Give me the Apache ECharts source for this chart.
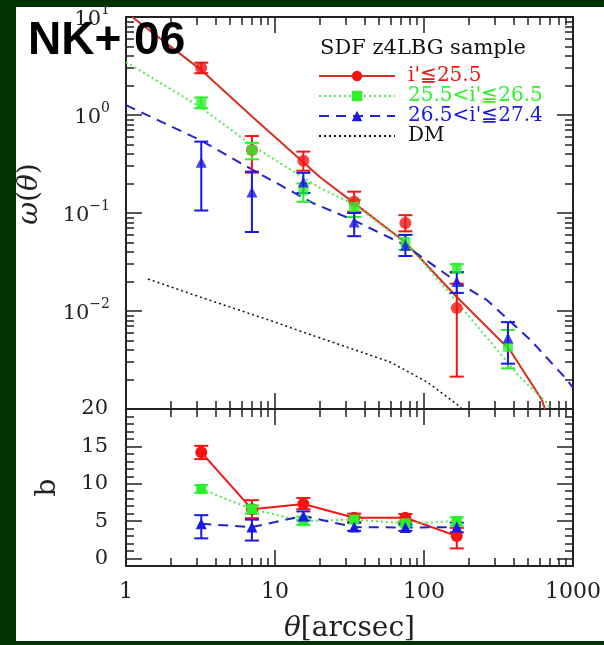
<!DOCTYPE html>
<html>
<head>
<meta charset="utf-8">
<script src="https://cdn.jsdelivr.net/npm/echarts@6/dist/echarts.min.js"></script>
<style>
  body { margin: 0; background: #013201; }
  #panel { position: absolute; left: 16px; top: 7px; width: 588px; height: 634px; background: #fff; }
  #chart { position: absolute; left: 0; top: 0; width: 604px; height: 645px; }
</style>
</head>
<body>
<div id="panel"></div>
<div id="chart"></div>
<script>
// angular separations (arcsec)
const theta = [3.2, 7.0, 15.5, 34, 75, 166, 366];

// omega(theta), upper panel
const wRed = [3.02, 0.44, 0.342, 0.13, 0.079, 0.0107];
const wRedLo = [2.67, 0.258, 0.27, 0.103, 0.065, 0.00214];
const wRedHi = [3.42, 0.61, 0.423, 0.165, 0.095, 0.019];

const wGreen = [1.32, 0.44, 0.17, 0.115, 0.0506, 0.0275, 0.0043];
const wGreenLo = [1.17, 0.353, 0.13, 0.091, 0.042, 0.0245, 0.0026];
const wGreenHi = [1.51, 0.52, 0.2, 0.136, 0.06, 0.03, 0.0064];

const wBlue = [0.33, 0.164, 0.207, 0.081, 0.047, 0.02, 0.0053];
const wBlueLo = [0.106, 0.064, 0.16, 0.058, 0.0364, 0.0153, 0.0029];
const wBlueHi = [0.535, 0.264, 0.257, 0.1, 0.0597, 0.025, 0.0077];

// fitted curves
const fitRedX = [1.1, 3.14, 7.1, 20, 33.3, 74.6, 166, 377, 619, 648];
const fitRedY = [10, 2.94, 0.95, 0.233, 0.129, 0.0506, 0.0139, 0.004, 0.00124, 0.001];
const fitGreenX = [1, 3.14, 7.1, 20, 34.4, 80.5, 166, 440, 670, 700];
const fitGreenY = [3.47, 1.21, 0.483, 0.18, 0.121, 0.045, 0.0124, 0.00212, 0.00115, 0.001];
const fitBlueX = [1, 3.14, 7.1, 18, 33.4, 74.6, 166, 265, 516, 913, 1000];
const fitBlueY = [1.26, 0.556, 0.275, 0.126, 0.085, 0.047, 0.0198, 0.0129, 0.0051, 0.00198, 0.00164];
const dmX = [1.405, 3.14, 10, 14.7, 59.2, 104.5, 166, 180];
const dmY = [0.0212, 0.0139, 0.0077, 0.00625, 0.00302, 0.00189, 0.00112, 0.001];

// bias b, lower panel
const bRed = [14.2, 6.6, 7.3, 5.45, 5.45, 3.0];
const bRedLo = [13.3, 5.4, 6.6, 4.9, 4.9, 1.35];
const bRedHi = [15.07, 7.8, 8.1, 6.0, 5.95, 4.1];
const bGreen = [9.3, 6.6, 5.0, 5.2, 4.7, 5.0];
const bGreenLo = [8.8, 6.0, 4.5, 4.8, 4.4, 4.4];
const bGreenHi = [9.8, 7.1, 5.6, 5.6, 5.0, 5.5];
const bBlue = [4.65, 4.2, 5.7, 4.2, 4.15, 4.2];
const bBlueLo = [2.7, 2.4, 5.1, 3.7, 3.7, 3.5];
const bBlueHi = [5.8, 5.2, 6.3, 4.8, 4.6, 4.8];

const names = ["i'\u226625.5", "25.5<i'\u226626.5", "26.5<i'\u226627.4", "DM"];
const RED = "#f41414", GREEN = "#2cf02c", BLUE = "#1818e8";
const SERIF = "'DejaVu Serif', 'Liberation Serif', serif";
const INK = "#222";

const pairs = (xs, ys) => ys.map((y, i) => [xs[i], y]);
const bars = (ys, lo, hi) => ys.map((y, i) => [theta[i], y, lo[i], hi[i]]);

// minor tick positions, in log10 units
const minorLog = (d0, d1) => {
  const out = [];
  for (let d = d0; d < d1; d++) {
    for (let k = 2; k <= 9; k++) out.push(d + Math.log10(k));
  }
  return out;
};
const minorB = [];
for (let v = 1; v < 20; v++) if (v % 5 !== 0) minorB.push(v);

const tickAxis = (grid, pos, min, max, values, len, line) => ({
  type: "value",
  gridIndex: grid,
  position: pos,
  min: min,
  max: max,
  axisLine: { show: !!line, onZero: false, lineStyle: { color: INK, width: 2 } },
  axisLabel: { show: false },
  splitLine: { show: false },
  axisTick: {
    show: true,
    inside: true,
    length: len,
    customValues: values,
    lineStyle: { color: INK, width: 1.5 },
  },
});

const errorBar = (color, xi, yi) => ({
  type: "custom",
  xAxisIndex: xi,
  yAxisIndex: yi,
  z: 3,
  clip: false,
  encode: { x: 0, y: 1 },
  renderItem: (params, api) => {
    const x = api.value(0);
    const top = api.coord([x, api.value(3)]);
    const bot = api.coord([x, api.value(2)]);
    const w = 7;
    const st = { stroke: color, lineWidth: 2 };
    return {
      type: "group",
      children: [
        { type: "line", shape: { x1: top[0], y1: top[1], x2: bot[0], y2: bot[1] }, style: st },
        { type: "line", shape: { x1: top[0] - w, y1: top[1], x2: top[0] + w, y2: top[1] }, style: st },
        { type: "line", shape: { x1: bot[0] - w, y1: bot[1], x2: bot[0] + w, y2: bot[1] }, style: st },
      ],
    };
  },
});

const legendText = (color) => ({ color: color, fontFamily: SERIF, fontSize: 20 });

const chart = echarts.init(document.getElementById("chart"));

const option = {
  backgroundColor: "transparent",
  animation: false,
  textStyle: { fontFamily: SERIF },
  grid: [
    { left: 126, top: 17, width: 447, height: 392 },
    { left: 126, top: 409, width: 447, height: 157 },
  ],
  xAxis: [
    {
      type: "log", logBase: 10, gridIndex: 0, position: "bottom", min: 1, max: 1000,
      axisLine: { onZero: false, lineStyle: { color: INK, width: 2 } },
      axisTick: { inside: true, length: 16, lineStyle: { color: INK, width: 1.5 } },
      axisLabel: { show: false },
      splitLine: { show: false },
    },
    tickAxis(0, "top", 0, 3, [0, 1, 2, 3], 16, true),
    tickAxis(0, "bottom", 0, 3, minorLog(0, 3), 8),
    tickAxis(0, "top", 0, 3, minorLog(0, 3), 8),
    {
      type: "log", logBase: 10, gridIndex: 1, position: "bottom", min: 1, max: 1000,
      axisLine: { onZero: false, lineStyle: { color: INK, width: 2 } },
      axisTick: { inside: true, length: 16, lineStyle: { color: INK, width: 1.5 } },
      axisLabel: {
        margin: 15, fontSize: 22, color: INK, fontFamily: SERIF,
        showMinLabel: true, showMaxLabel: true,
        formatter: (v) => String(Math.round(v)),
      },
      splitLine: { show: false },
      name: "{i|\u03b8}{r|[arcsec]}",
      nameLocation: "middle",
      nameGap: 49,
      nameTextStyle: {
        rich: {
          i: { fontFamily: SERIF, fontStyle: "italic", fontSize: 28, color: INK },
          r: { fontFamily: SERIF, fontSize: 28, color: INK },
        },
      },
    },
    tickAxis(1, "top", 0, 3, [0, 1, 2, 3], 16, true),
    tickAxis(1, "bottom", 0, 3, minorLog(0, 3), 8),
    tickAxis(1, "top", 0, 3, minorLog(0, 3), 8),
  ],
  yAxis: [
    {
      type: "log", logBase: 10, gridIndex: 0, position: "left", min: 0.001, max: 10,
      axisLine: { onZero: false, lineStyle: { color: INK, width: 2 } },
      axisTick: { inside: true, length: 16, lineStyle: { color: INK, width: 1.5 } },
      splitLine: { show: false },
      axisLabel: {
        margin: 16, showMinLabel: true, showMaxLabel: true,
        formatter: (v) => {
          const e = Math.round(Math.log10(v));
          if (e <= -3) return "";
          return "{b|10}{s|" + (e < 0 ? "\u2212" + -e : e) + "}";
        },
        rich: {
          b: { fontFamily: SERIF, fontSize: 21, color: INK, lineHeight: 27, verticalAlign: "bottom" },
          s: { fontFamily: SERIF, fontSize: 14, color: INK, lineHeight: 14, verticalAlign: "top" },
        },
      },
    },
    tickAxis(0, "right", -3, 1, [-3, -2, -1, 0, 1], 16, true),
    tickAxis(0, "left", -3, 1, minorLog(-3, 1), 8),
    tickAxis(0, "right", -3, 1, minorLog(-3, 1), 8),
    {
      type: "value", gridIndex: 1, position: "left", min: -1, max: 20,
      axisLine: { onZero: false, lineStyle: { color: INK, width: 2 } },
      axisTick: { inside: true, length: 16, customValues: [0, 5, 10, 15, 20], lineStyle: { color: INK, width: 1.5 } },
      splitLine: { show: false },
      axisLabel: {
        margin: 18, fontSize: 21, color: INK, fontFamily: SERIF,
        customValues: [0, 5, 10, 15, 20],
      },
      name: "b",
      nameLocation: "middle",
      nameGap: 64,
      nameTextStyle: { fontFamily: SERIF, fontSize: 28, color: INK },
    },
    tickAxis(1, "right", -1, 20, [0, 5, 10, 15, 20], 16, true),
    tickAxis(1, "left", -1, 20, minorB, 8),
    tickAxis(1, "right", -1, 20, minorB, 8),
  ],
  legend: {
    orient: "vertical",
    left: 318,
    top: 66,
    padding: 0,
    itemGap: 0,
    itemWidth: 76,
    itemHeight: 13,
    selectedMode: false,
    textStyle: { fontFamily: SERIF, fontSize: 20, lineHeight: 19.7, padding: [0, 0, 0, 8] },
    data: [
      { name: names[0], textStyle: legendText(RED) },
      { name: names[1], textStyle: legendText(GREEN) },
      { name: names[2], textStyle: legendText(BLUE) },
      { name: names[3], textStyle: legendText("#111"), itemStyle: { opacity: 0 } },
    ],
  },
  graphic: [
    {
      type: "text", left: 28, top: 18, z: 100,
      style: { text: "NK+ 06", font: "bold 46px 'Liberation Sans', Arial, sans-serif", fill: "#000" },
    },
    {
      type: "text", left: 320, top: 38, z: 100,
      style: { text: "SDF z4LBG sample", font: "21px 'DejaVu Serif', serif", fill: "#111" },
    },
    {
      type: "text", x: 30, y: 194, rotation: Math.PI / 2, z: 100,
      style: {
        text: "{i|\u03c9}{r|(}{i|\u03b8}{r|)}",
        align: "center",
        verticalAlign: "middle",
        rich: {
          i: { fontFamily: SERIF, fontStyle: "italic", fontSize: 28, fill: INK },
          r: { fontFamily: SERIF, fontSize: 28, fill: INK },
        },
      },
    },
  ],
  series: [
    // fitted curves, upper panel
    {
      name: names[0], type: "line", xAxisIndex: 0, yAxisIndex: 0, z: 2,
      data: pairs(fitRedX, fitRedY), symbol: "circle", showSymbol: false,
      itemStyle: { color: RED }, lineStyle: { color: "#d83020", width: 2 },
    },
    {
      name: names[1], type: "line", xAxisIndex: 0, yAxisIndex: 0, z: 2,
      data: pairs(fitGreenX, fitGreenY), symbol: "rect", showSymbol: false,
      itemStyle: { color: GREEN }, lineStyle: { color: "#55e855", width: 2, type: [2, 3] },
    },
    {
      name: names[2], type: "line", xAxisIndex: 0, yAxisIndex: 0, z: 2,
      data: pairs(fitBlueX, fitBlueY), symbol: "triangle", showSymbol: false,
      itemStyle: { color: BLUE }, lineStyle: { color: "#2424cc", width: 2, type: [10, 7] },
    },
    {
      name: names[3], type: "line", xAxisIndex: 0, yAxisIndex: 0, z: 2,
      data: pairs(dmX, dmY), symbol: "circle", showSymbol: false,
      itemStyle: { color: "#111" }, lineStyle: { color: "#111", width: 1.5, type: [2, 3] },
    },
    // error bars, upper panel
    Object.assign(errorBar(RED, 0, 0), { data: bars(wRed, wRedLo, wRedHi) }),
    Object.assign(errorBar(GREEN, 0, 0), { data: bars(wGreen, wGreenLo, wGreenHi) }),
    Object.assign(errorBar(BLUE, 0, 0), { data: bars(wBlue, wBlueLo, wBlueHi) }),
    // points, upper panel
    {
      name: "wRed", type: "scatter", xAxisIndex: 0, yAxisIndex: 0, z: 4,
      data: pairs(theta, wRed), symbol: "circle", symbolSize: 12, itemStyle: { color: RED },
    },
    {
      name: "wGreen", type: "scatter", xAxisIndex: 0, yAxisIndex: 0, z: 4,
      data: pairs(theta, wGreen), symbol: "rect", symbolSize: 10, itemStyle: { color: GREEN },
    },
    {
      name: "wBlue", type: "scatter", xAxisIndex: 0, yAxisIndex: 0, z: 4,
      data: pairs(theta, wBlue), symbol: "triangle", symbolSize: 11, itemStyle: { color: BLUE },
    },
    // error bars, lower panel
    Object.assign(errorBar(RED, 4, 4), { data: bars(bRed, bRedLo, bRedHi) }),
    Object.assign(errorBar(GREEN, 4, 4), { data: bars(bGreen, bGreenLo, bGreenHi) }),
    Object.assign(errorBar(BLUE, 4, 4), { data: bars(bBlue, bBlueLo, bBlueHi) }),
    // bias, lower panel
    {
      name: "bRed", type: "line", xAxisIndex: 4, yAxisIndex: 4, z: 4,
      data: pairs(theta, bRed), symbol: "circle", symbolSize: 12, showAllSymbol: true,
      itemStyle: { color: RED }, lineStyle: { color: RED, width: 2 },
    },
    {
      name: "bGreen", type: "line", xAxisIndex: 4, yAxisIndex: 4, z: 4,
      data: pairs(theta, bGreen), symbol: "rect", symbolSize: 10, showAllSymbol: true,
      itemStyle: { color: GREEN }, lineStyle: { color: "#55e855", width: 2, type: [2, 3] },
    },
    {
      name: "bBlue", type: "line", xAxisIndex: 4, yAxisIndex: 4, z: 4,
      data: pairs(theta, bBlue), symbol: "triangle", symbolSize: 11, showAllSymbol: true,
      itemStyle: { color: BLUE }, lineStyle: { color: "#2424cc", width: 2, type: [10, 7] },
    },
  ],
};

chart.setOption(option);
</script>
</body>
</html>
